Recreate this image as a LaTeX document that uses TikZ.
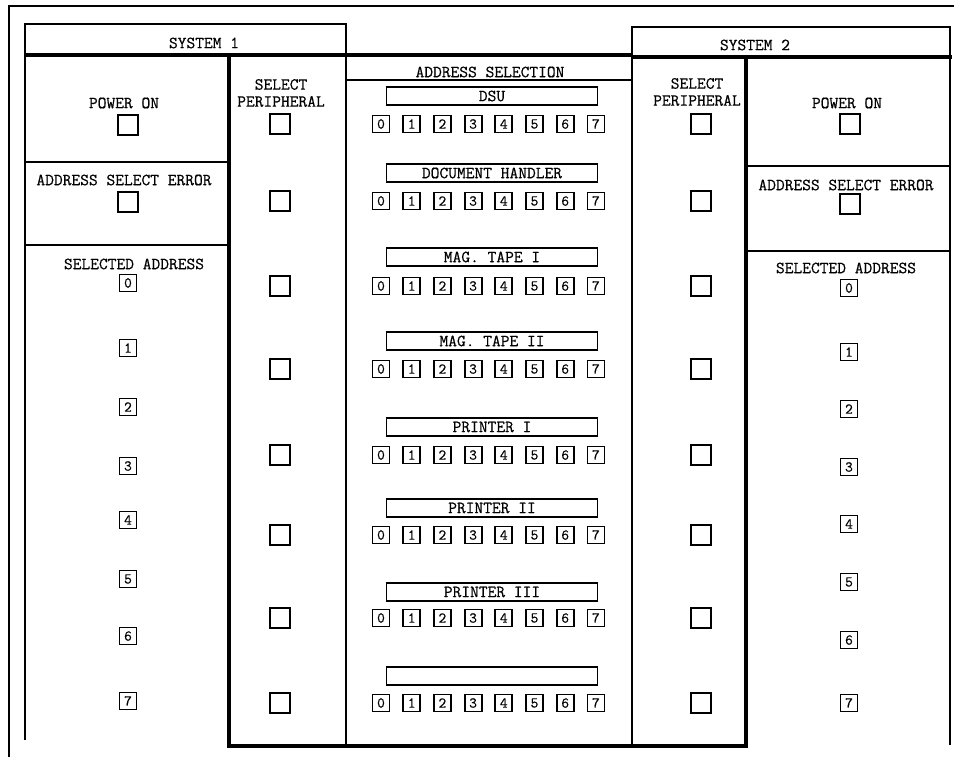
\documentclass[tikz,border=0pt]{standalone}
\usepackage{fontspec}
\setmonofont[FakeBold=0.6]{Latin Modern Mono}
\begin{document}
\begin{tikzpicture}[x=1pt,y=-1pt,
  rule/.style={line width=1.5pt},
  heavy/.style={line width=3.6pt},
  lbl/.style={font=\ttfamily\fontsize{17}{17}\selectfont,inner sep=0pt,align=center},
  lamp/.style={draw,line width=2pt,minimum size=20pt,inner sep=0pt},
  addr/.style={draw,line width=1.8pt,minimum size=17pt,inner sep=0pt,font=\ttfamily\fontsize{15}{15}\selectfont},
  tag/.style={draw,line width=1.7pt,minimum width=211pt,minimum height=18pt,inner sep=0pt,font=\ttfamily\fontsize{17}{17}\selectfont}]
\useasboundingbox (0,0) rectangle (954,757);
% frame and panels
\draw[rule] (9,757) -- (9,6) -- (954,6);
\draw[rule] (25,740) -- (25,24) -- (346,24) -- (346,746);
\draw[rule] (950,745) -- (950,27) -- (632,27) -- (632,746);
\draw[heavy] (25,55) -- (632,55);\draw[heavy] (632,57) -- (952,57);
\draw[heavy] (229,55) -- (229,746) -- (746,746) -- (746,57);
\draw[rule] (25,162) -- (229,162);\draw[rule] (25,245) -- (229,245);
\draw[rule] (746,166) -- (950,166);\draw[rule] (746,251) -- (950,251);
\draw[rule] (346,80) -- (632,80);
% headings
\node[lbl] (sysA) at (204,43) {SYSTEM 1};\node[lbl] (sysB) at (755,45) {SYSTEM 2};
\node[lbl] (adsel) at (490,72) {ADDRESS SELECTION};
\node[lbl] (perA) at (281,93) {SELECT\\PERIPHERAL};\node[lbl] (perB) at (697,92) {SELECT\\PERIPHERAL};
\node[lbl] (pwrA) at (124,103) {POWER ON};\node[lbl] (pwrB) at (847,103) {POWER ON};
\node[lbl] (errA) at (124,180) {ADDRESS SELECT ERROR};\node[lbl] (errB) at (846,185) {ADDRESS SELECT ERROR};
\node[lbl] (selA) at (134,264) {SELECTED ADDRESS};\node[lbl] (selB) at (846,268) {SELECTED ADDRESS};
\node[lamp] (pwrlampA) at (128,125) {};\node[lamp] (pwrlampB) at (850,124) {};
\node[lamp] (errlampA) at (128,202) {};\node[lamp] (errlampB) at (850,204) {};
% selected address lamps
\foreach \d/\ya/\yb in {0/283/288,1/348/352,2/407/409,3/466/467,4/520/524,5/579/582,6/636/640,7/701/703}{
  \node[addr] (addrA\d) at (128,\ya) {\d};
  \node[addr] (addrB\d) at (849,\yb) {\d};
}
% peripheral rows
\foreach \t/\ly/\ry [count=\i] in {DSU/96/124,DOCUMENT HANDLER/173/201,MAG. TAPE I/257/286,MAG. TAPE II/341/369,PRINTER I/427/455,PRINTER II/508/535,PRINTER III/592/618,{}/676/703}{
  \node[tag] (tag\i) at (492,\ly) {\t};
  \foreach \d in {0,...,7} \node[addr] (dev\i-\d) at (381+30.7*\d,\ry) {\d};
  \node[lamp] (pickA\i) at (280,\ry) {};
  \node[lamp] (pickB\i) at (701,\ry) {};
}
\end{tikzpicture}
\end{document}
